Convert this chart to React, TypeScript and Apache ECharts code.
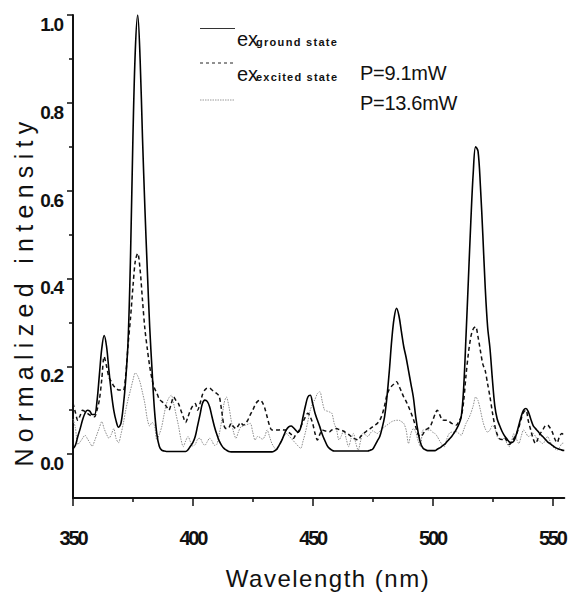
import React, { useEffect, useRef } from "react";
import * as echarts from "echarts";

// Wavelength grid: 350 … 555 nm, 1 nm step
const WL_START = 350;
const WL_END = 555;

// Normalized intensity, excitation from ground state
const groundState = [
  0.012, 0.02, 0.04, 0.058, 0.078, 0.093, 0.1, 0.098, 0.09, 0.09,
  0.12, 0.18, 0.24, 0.27, 0.245, 0.19, 0.14, 0.1, 0.075, 0.061,
  0.07, 0.11, 0.17, 0.26, 0.45, 0.72, 0.92, 1.0, 0.9, 0.72,
  0.56, 0.42, 0.29, 0.19, 0.1, 0.045, 0.018, 0.009, 0.007, 0.006,
  0.006, 0.006, 0.006, 0.006, 0.006, 0.006, 0.006, 0.006, 0.01, 0.018,
  0.026, 0.04, 0.065, 0.09, 0.115, 0.123, 0.12, 0.108, 0.085, 0.063,
  0.045, 0.03, 0.02, 0.013, 0.009, 0.006, 0.005, 0.005, 0.005, 0.005,
  0.005, 0.005, 0.005, 0.005, 0.005, 0.005, 0.005, 0.005, 0.005, 0.005,
  0.005, 0.005, 0.005, 0.005, 0.007, 0.011, 0.02, 0.03, 0.043, 0.055,
  0.062, 0.064, 0.06, 0.054, 0.05, 0.06, 0.085, 0.11, 0.13, 0.134,
  0.115, 0.093, 0.077, 0.062, 0.045, 0.032, 0.02, 0.013, 0.009, 0.007,
  0.007, 0.007, 0.007, 0.007, 0.007, 0.007, 0.007, 0.007, 0.007, 0.007,
  0.007, 0.007, 0.007, 0.007, 0.009, 0.011, 0.02, 0.03, 0.04, 0.06,
  0.085, 0.13, 0.19, 0.26, 0.31, 0.332, 0.315, 0.28, 0.245, 0.22,
  0.19, 0.16, 0.13, 0.085, 0.05, 0.025, 0.014, 0.01, 0.008, 0.008,
  0.008, 0.008, 0.011, 0.014, 0.018, 0.022, 0.028, 0.034, 0.04, 0.048,
  0.057, 0.068, 0.085, 0.15, 0.27, 0.4, 0.53, 0.64, 0.7, 0.69,
  0.61, 0.5, 0.38, 0.29, 0.24, 0.17, 0.11, 0.08, 0.065, 0.052,
  0.042, 0.035, 0.028, 0.026, 0.03, 0.045, 0.065, 0.085, 0.1, 0.104,
  0.096, 0.08, 0.065, 0.058, 0.052, 0.045, 0.04, 0.034, 0.028, 0.024,
  0.02, 0.016, 0.013, 0.011, 0.009, 0.008,
];

// Excitation from excited state, P = 9.1 mW
const excited91 = [
  0.116, 0.095, 0.077, 0.088, 0.1, 0.097, 0.093, 0.089, 0.087, 0.085,
  0.1, 0.123, 0.17, 0.222, 0.2, 0.175, 0.165, 0.155, 0.15, 0.146,
  0.146, 0.145, 0.18, 0.25, 0.31, 0.38, 0.44, 0.457, 0.42, 0.35,
  0.285, 0.24, 0.2, 0.17, 0.15, 0.139, 0.125, 0.12, 0.115, 0.108,
  0.1, 0.115, 0.13, 0.122, 0.115, 0.1, 0.085, 0.072, 0.085, 0.1,
  0.11, 0.115, 0.1, 0.115, 0.135, 0.146, 0.15, 0.15, 0.146, 0.142,
  0.138, 0.132, 0.1, 0.065, 0.058, 0.06, 0.07, 0.062, 0.058, 0.065,
  0.072, 0.066, 0.07, 0.078, 0.09, 0.1, 0.112, 0.12, 0.123, 0.118,
  0.105, 0.085, 0.065, 0.055, 0.055, 0.055, 0.055, 0.056, 0.055, 0.055,
  0.05, 0.045, 0.036, 0.045, 0.051, 0.062, 0.074, 0.085, 0.093, 0.085,
  0.07, 0.047, 0.032, 0.045, 0.055, 0.053, 0.052, 0.051, 0.055, 0.057,
  0.058, 0.056, 0.055, 0.052, 0.048, 0.045, 0.04, 0.036, 0.034, 0.032,
  0.04, 0.046, 0.05, 0.055, 0.058, 0.062, 0.066, 0.07, 0.077, 0.09,
  0.11, 0.135, 0.148, 0.155, 0.16, 0.165, 0.155, 0.143, 0.13, 0.12,
  0.108, 0.095, 0.08, 0.062, 0.045, 0.04, 0.045, 0.055, 0.058, 0.062,
  0.075, 0.09, 0.1, 0.09, 0.078, 0.077, 0.077, 0.074, 0.07, 0.068,
  0.066, 0.075, 0.085, 0.12, 0.18, 0.23, 0.267, 0.285, 0.29, 0.267,
  0.235, 0.205, 0.19, 0.16, 0.13, 0.095, 0.065, 0.045, 0.035, 0.033,
  0.038, 0.03, 0.022, 0.028, 0.036, 0.045, 0.06, 0.08, 0.095, 0.1,
  0.075, 0.055, 0.035, 0.024, 0.035, 0.047, 0.055, 0.064, 0.066, 0.06,
  0.05, 0.035, 0.026, 0.04, 0.047, 0.04,
];

// Excitation from excited state, P = 13.6 mW
const excited136 = [
  0.08, 0.06, 0.022, 0.028, 0.036, 0.043, 0.035, 0.026, 0.018, 0.03,
  0.045, 0.06, 0.074, 0.058, 0.045, 0.036, 0.045, 0.058, 0.035, 0.026,
  0.045, 0.07, 0.1, 0.125, 0.146, 0.168, 0.185, 0.178, 0.163, 0.14,
  0.115, 0.08, 0.064, 0.072, 0.065, 0.032, 0.045, 0.062, 0.09, 0.115,
  0.128, 0.134, 0.115, 0.09, 0.065, 0.035, 0.017, 0.03, 0.04, 0.028,
  0.018, 0.022, 0.034, 0.036, 0.026, 0.02, 0.028, 0.036, 0.03, 0.02,
  0.022, 0.045, 0.075, 0.115, 0.13, 0.11, 0.077, 0.05, 0.036, 0.05,
  0.062, 0.064, 0.066, 0.068, 0.07, 0.05, 0.032, 0.04, 0.038, 0.034,
  0.04, 0.055, 0.04, 0.024, 0.015, 0.009, 0.02, 0.032, 0.04, 0.047,
  0.042, 0.036, 0.03, 0.024, 0.018, 0.013, 0.03, 0.05, 0.075, 0.1,
  0.115, 0.125, 0.138, 0.142, 0.12, 0.1, 0.098, 0.096, 0.093, 0.07,
  0.055, 0.032, 0.042, 0.055, 0.035, 0.017, 0.035, 0.047, 0.025, 0.009,
  0.03, 0.047, 0.044, 0.04, 0.047, 0.053, 0.05, 0.047, 0.052, 0.057,
  0.062, 0.066, 0.07, 0.074, 0.076, 0.077, 0.077, 0.074, 0.07, 0.055,
  0.024, 0.047, 0.058, 0.05, 0.03, 0.017, 0.055, 0.055, 0.055, 0.055,
  0.05, 0.047, 0.04, 0.03, 0.022, 0.017, 0.035, 0.047, 0.05, 0.05,
  0.051, 0.047, 0.043, 0.055, 0.07, 0.08, 0.093, 0.11, 0.13, 0.122,
  0.1, 0.075, 0.058, 0.05, 0.055, 0.065, 0.06, 0.04, 0.033, 0.034,
  0.036, 0.025, 0.017, 0.03, 0.047, 0.035, 0.024, 0.04, 0.055, 0.048,
  0.04, 0.043, 0.047, 0.04, 0.032, 0.028, 0.024, 0.03, 0.04, 0.03,
  0.018, 0.013, 0.009, 0.015, 0.024, 0.025,
];

const xMajorTicks = [350, 400, 450, 500, 550];
const xMinorTicks = [375, 425, 475, 525];
const yMajorTicks = [0, 0.2, 0.4, 0.6, 0.8, 1.0];
const yMinorTicks = [0.1, 0.3, 0.5, 0.7, 0.9];

const X_TITLE = "Wavelength (nm)";
const Y_TITLE = "Normalized intensity";
const LEGEND_EX = "ex";
const LEGEND_GROUND = "ground state";
const LEGEND_EXCITED = "excited state";
const POWER_1 = "P=9.1mW";
const POWER_2 = "P=13.6mW";

const FONT = '"Liberation Sans", Arial, Helvetica, sans-serif';
const INK = "#111";

function toPairs(values: number[]) {
  return values.map((v, i) => [WL_START + i, v]);
}

export default function App() {
  const ref = useRef<HTMLDivElement>(null);

  useEffect(() => {
    if (!ref.current) return;
    const chart = echarts.init(ref.current, null, { renderer: "svg" });

    const tickStyle = { color: INK, width: 1.5 };

    chart.setOption({
      animation: false,
      backgroundColor: "#fff",
      grid: { left: 73, right: 1, top: 15, bottom: 95, containLabel: false },
      xAxis: [
        {
          type: "value",
          min: WL_START,
          max: WL_END,
          position: "bottom",
          axisLine: { show: true, onZero: false, lineStyle: { color: INK, width: 2 } },
          axisTick: { show: true, length: 8, lineStyle: tickStyle, customValues: xMajorTicks },
          axisLabel: {
            show: true,
            customValues: xMajorTicks,
            margin: 30,
            fontSize: 20,
            fontWeight: "bold",
            fontFamily: FONT,
            color: INK,
          },
          splitLine: { show: false },
        },
        {
          type: "value",
          min: WL_START,
          max: WL_END,
          position: "bottom",
          offset: 0,
          axisLine: { show: false, onZero: false },
          axisTick: { show: true, length: 4, lineStyle: tickStyle, customValues: xMinorTicks },
          axisLabel: { show: false },
          splitLine: { show: false },
        },
      ],
      yAxis: [
        {
          type: "value",
          min: -0.1,
          max: 1.0,
          position: "left",
          axisLine: { show: true, onZero: false, lineStyle: { color: INK, width: 2 } },
          axisTick: { show: true, length: 6, lineStyle: tickStyle, customValues: yMajorTicks },
          axisLabel: {
            show: true,
            customValues: yMajorTicks,
            formatter: (v: number) => v.toFixed(1),
            margin: 10,
            fontSize: 19,
            fontWeight: "bold",
            fontFamily: FONT,
            color: INK,
            verticalAlign: "top",
          },
          splitLine: { show: false },
        },
        {
          type: "value",
          min: -0.1,
          max: 1.0,
          position: "left",
          offset: 0,
          axisLine: { show: false, onZero: false },
          axisTick: { show: true, length: 4, lineStyle: tickStyle, customValues: yMinorTicks },
          axisLabel: { show: false },
          splitLine: { show: false },
        },
      ],
      series: [
        {
          name: "ground",
          type: "line",
          xAxisIndex: 0,
          yAxisIndex: 0,
          data: toPairs(groundState),
          showSymbol: false,
          smooth: 0.35,
          silent: true,
          clip: true,
          lineStyle: { color: "#000", width: 1.6, type: "solid" },
          z: 5,
        },
        {
          name: "excited91",
          type: "line",
          xAxisIndex: 0,
          yAxisIndex: 0,
          data: toPairs(excited91),
          showSymbol: false,
          smooth: 0.3,
          silent: true,
          clip: true,
          lineStyle: { color: "#111", width: 1.5, type: [4, 3] },
          z: 4,
        },
        {
          name: "excited136",
          type: "line",
          xAxisIndex: 0,
          yAxisIndex: 0,
          data: toPairs(excited136),
          showSymbol: false,
          smooth: 0.3,
          silent: true,
          clip: true,
          lineStyle: { color: "#8a8a8a", width: 1, type: [1.5, 1.2] },
          z: 3,
        },
      ],
      graphic: [
        {
          type: "line",
          silent: true,
          shape: { x1: 200, y1: 28.5, x2: 235, y2: 28.5 },
          style: { stroke: "#333", lineWidth: 1.2 },
        },
        {
          type: "line",
          silent: true,
          shape: { x1: 200, y1: 63, x2: 235, y2: 63 },
          style: { stroke: "#222", lineWidth: 1, lineDash: [3, 3] },
        },
        {
          type: "line",
          silent: true,
          shape: { x1: 200, y1: 100, x2: 235, y2: 100 },
          style: { stroke: "#999", lineWidth: 1, lineDash: [1.5, 1] },
        },
        {
          type: "text",
          silent: true,
          x: 237,
          y: 38.5,
          style: { text: LEGEND_EX, font: `20px ${FONT}`, fill: INK, textAlign: "left", textVerticalAlign: "middle" },
        },
        {
          type: "text",
          silent: true,
          x: 256,
          y: 41.5,
          style: { text: LEGEND_GROUND, font: `bold 11px ${FONT}`, fill: INK, textAlign: "left", textVerticalAlign: "middle" },
        },
        {
          type: "text",
          silent: true,
          x: 237,
          y: 73.5,
          style: { text: LEGEND_EX, font: `20px ${FONT}`, fill: INK, textAlign: "left", textVerticalAlign: "middle" },
        },
        {
          type: "text",
          silent: true,
          x: 256,
          y: 76.5,
          style: { text: LEGEND_EXCITED, font: `bold 11px ${FONT}`, fill: INK, textAlign: "left", textVerticalAlign: "middle" },
        },
        {
          type: "text",
          silent: true,
          x: 360,
          y: 73,
          style: { text: POWER_1, font: `20px ${FONT}`, fill: INK, textAlign: "left", textVerticalAlign: "middle" },
        },
        {
          type: "text",
          silent: true,
          x: 360,
          y: 103,
          style: { text: POWER_2, font: `20px ${FONT}`, fill: INK, textAlign: "left", textVerticalAlign: "middle" },
        },
        {
          type: "text",
          silent: true,
          x: 328,
          y: 578.5,
          style: { text: X_TITLE, font: `24px ${FONT}`, fill: INK, textAlign: "center", textVerticalAlign: "middle" },
        },
        {
          type: "text",
          silent: true,
          x: 23.5,
          y: 291,
          rotation: Math.PI / 2,
          style: { text: Y_TITLE, font: `25px ${FONT}`, fill: INK, textAlign: "center", textVerticalAlign: "middle" },
        },
      ],
    });

    const spacing: Record<string, string> = {
      [Y_TITLE]: "6.3px",
      [X_TITLE]: "1.5px",
      [LEGEND_GROUND]: "1.3px",
      [LEGEND_EXCITED]: "1.2px",
      [POWER_1]: "-0.3px",
      [POWER_2]: "-0.3px",
    };
    xMajorTicks.forEach((t) => (spacing[String(t)] = "-2.2px"));
    yMajorTicks.forEach((t) => (spacing[t.toFixed(1)] = "-1.2px"));

    const applySpacing = () => {
      const root = ref.current;
      if (!root) return;
      root.querySelectorAll("text").forEach((el) => {
        const s = spacing[(el.textContent || "").trim()];
        if (s) el.setAttribute("letter-spacing", s);
      });
    };
    applySpacing();
    chart.on("finished", applySpacing);

    return () => {
      chart.dispose();
    };
  }, []);

  return (
    <div
      ref={ref}
      style={{ position: "absolute", left: 0, top: 0, width: 572, height: 593, background: "#fff" }}
    />
  );
}
